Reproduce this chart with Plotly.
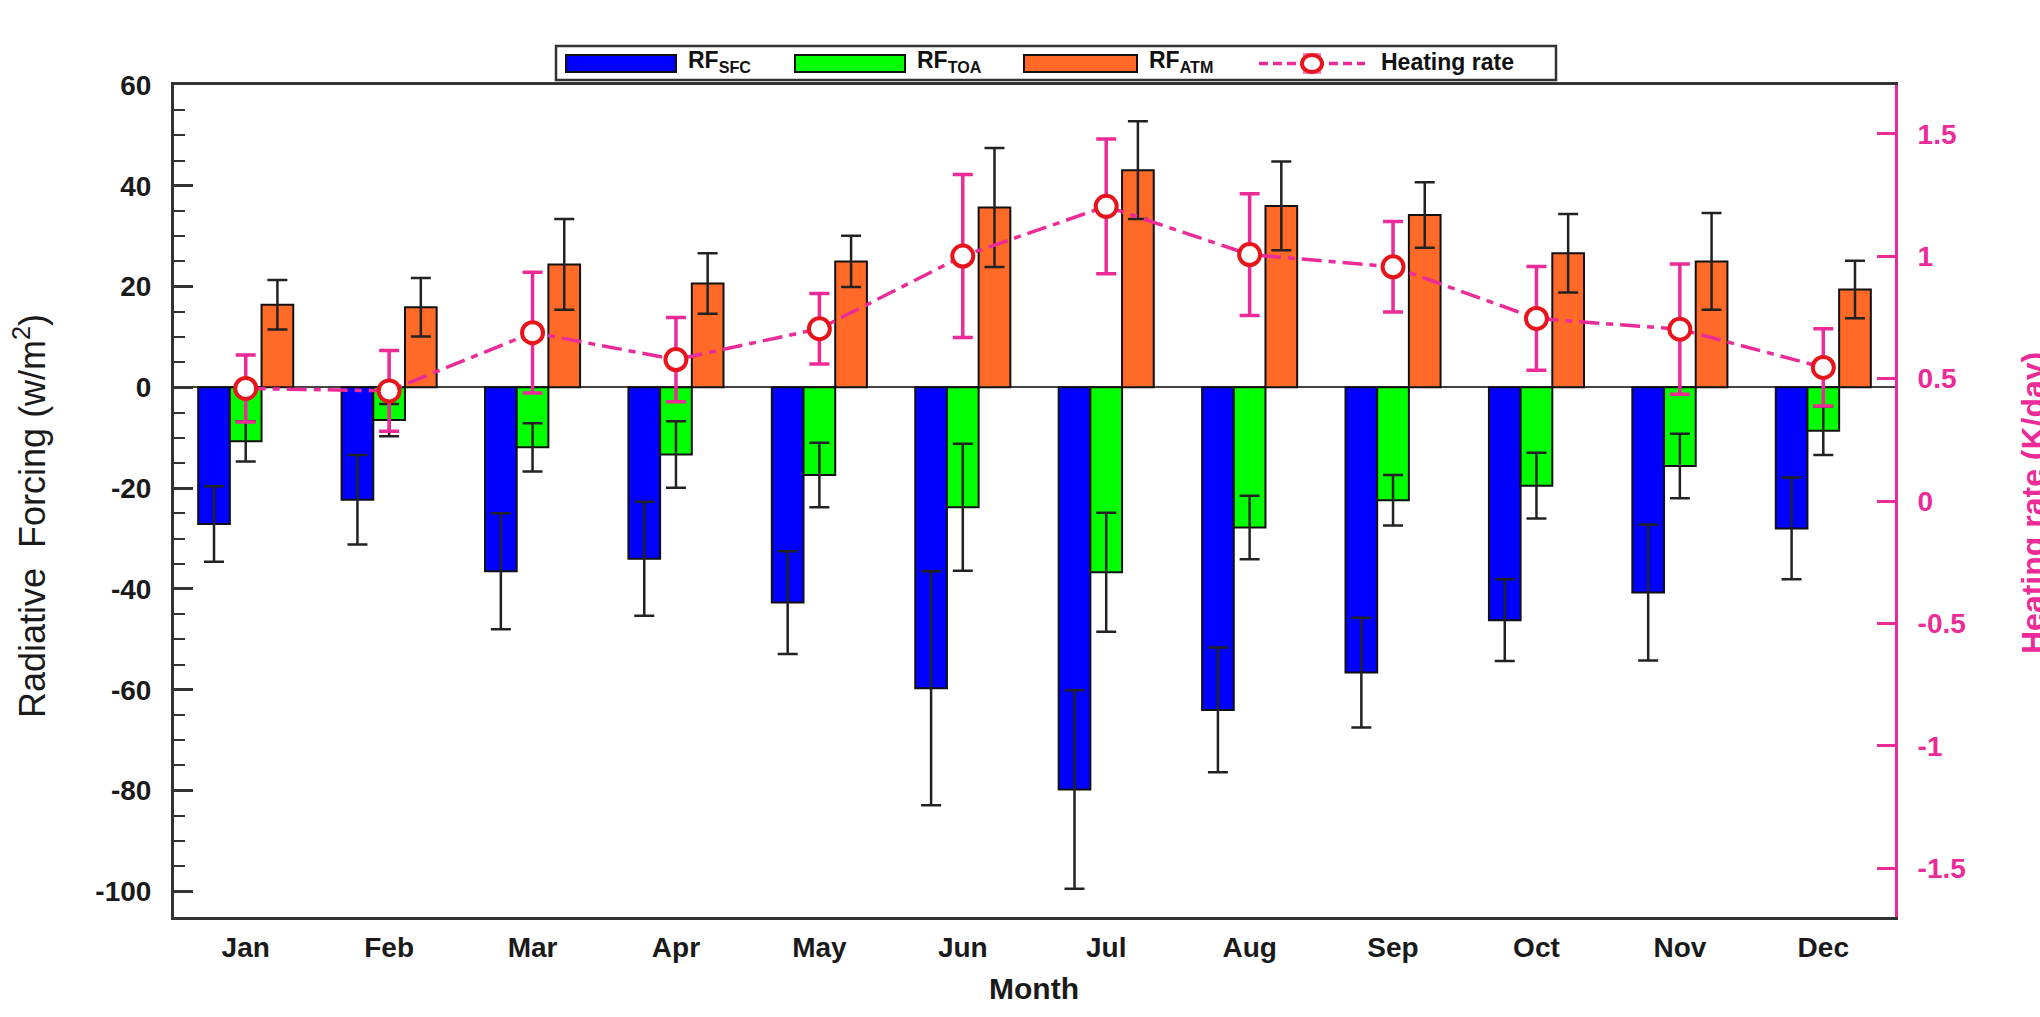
import plotly.graph_objects as go

months = ["Jan", "Feb", "Mar", "Apr", "May", "Jun", "Jul", "Aug", "Sep", "Oct", "Nov", "Dec"]

rf_sfc = [-27.1, -22.3, -36.5, -34.0, -42.7, -59.7, -79.8, -64.0, -56.6, -46.2, -40.7, -28.0]
rf_sfc_err = [7.5, 8.9, 11.5, 11.3, 10.2, 23.2, 19.7, 12.4, 10.9, 8.1, 13.5, 10.1]
rf_toa = [-10.7, -6.5, -11.9, -13.3, -17.4, -23.8, -36.7, -27.8, -22.4, -19.5, -15.6, -8.6]
rf_toa_err = [4.0, 3.2, 4.8, 6.6, 6.4, 12.6, 11.8, 6.3, 5.0, 6.5, 6.4, 4.8]
rf_atm = [16.4, 15.9, 24.4, 20.6, 25.0, 35.7, 43.1, 36.0, 34.2, 26.6, 25.0, 19.4]
rf_atm_err = [4.9, 5.8, 9.0, 6.0, 5.1, 11.8, 9.7, 8.8, 6.5, 7.8, 9.6, 5.7]
heating = [0.46, 0.45, 0.688, 0.578, 0.704, 1.001, 1.204, 1.007, 0.957, 0.746, 0.702, 0.546]
heating_err = [0.137, 0.165, 0.247, 0.172, 0.144, 0.333, 0.275, 0.249, 0.185, 0.212, 0.266, 0.158]

left_ticks = [-100, -80, -60, -40, -20, 0, 20, 40, 60]
left_ticktext = ["-100", "-80", "-60", "-40", "-20", "0", "20", "40", "60"]
right_ticks = [-1.5, -1, -0.5, 0, 0.5, 1, 1.5]
right_ticktext = ["-1.5", "-1", "-0.5", "0", "0.5", "1", "1.5"]

PINK = "#EC2A98"
FONT = "Liberation Sans, Arial, sans-serif"

fig = go.Figure()


def bar(name, y, err, color):
    return go.Bar(
        name=name, x=months, y=y,
        marker=dict(color=color, line=dict(color="#111111", width=2)),
        error_y=dict(type="data", array=err, color="#222222", thickness=2.5, width=10),
    )


fig.add_trace(bar("RF SFC", rf_sfc, rf_sfc_err, "#0000FF"))
fig.add_trace(bar("RF TOA", rf_toa, rf_toa_err, "#00FF00"))
fig.add_trace(bar("RF ATM", rf_atm, rf_atm_err, "#FF6A28"))
fig.add_trace(go.Scatter(
    name="Heating rate", x=months, y=heating, yaxis="y2",
    mode="lines+markers",
    line=dict(color=PINK, width=3.5, dash="20px,7px,7px,7px"),
    marker=dict(symbol="circle", size=21, color="white", line=dict(color="#E8141C", width=4)),
    error_y=dict(type="data", array=heating_err, color=PINK, thickness=3.5, width=10),
))

L, R, T, B = 174, 145, 85, 100
W, H = 2040, 1017
pw, ph = W - L - R, H - T - B


def px(x):
    return (x - L) / pw


def py(y):
    return (H - B - y) / ph


shapes = []
annotations = []

# legend box
shapes.append(dict(type="rect", xref="paper", yref="paper", x0=px(556), x1=px(1556), y0=py(80), y1=py(46),
                   line=dict(color="#333333", width=2.5), fillcolor="white"))
sw = [(566, 676, "#0000FF"), (795, 905, "#00FF00"), (1024, 1137, "#FF6A28")]
for x0, x1, c in sw:
    shapes.append(dict(type="rect", xref="paper", yref="paper", x0=px(x0), x1=px(x1), y0=py(72), y1=py(55),
                       line=dict(color="#111111", width=2), fillcolor=c))
# heating rate legend symbol
shapes.append(dict(type="line", xref="paper", yref="paper", x0=px(1259), x1=px(1365), y0=py(63.5), y1=py(63.5),
                   line=dict(color=PINK, width=3.5, dash="9px,5px")))
shapes.append(dict(type="rect", xref="paper", yref="paper", x0=px(1303), x1=px(1321), y0=py(74), y1=py(53),
                   line=dict(color=PINK, width=0), fillcolor="#F27CC0"))
shapes.append(dict(type="circle", xref="paper", yref="paper", x0=px(1302), x1=px(1322), y0=py(72), y1=py(55),
                   line=dict(color="#E8141C", width=4), fillcolor="white"))

leg_font = dict(family=FONT, size=23, color="#111111", weight="bold")
for x, t in [(686, "RF<sub>SFC</sub>"), (915, "RF<sub>TOA</sub>"), (1147, "RF<sub>ATM</sub>"), (1379, "Heating rate")]:
    annotations.append(dict(xref="paper", yref="paper", x=px(x), y=py(62), xanchor="left", yanchor="middle",
                            text=t, showarrow=False, font=leg_font))

annotations.append(dict(xref="paper", yref="paper", x=px(30), y=py(516), textangle=-90,
                        xanchor="center", yanchor="middle",
                        text="Radiative  Forcing (w/m<sup>2</sup>)", showarrow=False,
                        font=dict(family=FONT, size=36, color="#1a1a1a")))
annotations.append(dict(xref="paper", yref="paper", x=px(2033), y=py(503), textangle=-90,
                        xanchor="center", yanchor="middle",
                        text="Heating rate (K/day)", showarrow=False,
                        font=dict(family=FONT, size=32, color=PINK, weight="bold")))
annotations.append(dict(xref="paper", yref="paper", x=px(1034), y=py(989),
                        xanchor="center", yanchor="middle",
                        text="Month", showarrow=False,
                        font=dict(family=FONT, size=30, color="#1a1a1a", weight="bold")))

tick_font = dict(family=FONT, size=28, color="#1a1a1a", weight="bold")

fig.update_layout(
    width=W, height=H,
    margin=dict(l=L, r=R, t=T, b=B, autoexpand=False),
    paper_bgcolor="white", plot_bgcolor="white",
    barmode="group", bargap=0.337, bargroupgap=0,
    showlegend=False,
    shapes=shapes, annotations=annotations,
    xaxis=dict(
        type="category", range=[-0.5, 11.5],
        showline=True, linecolor="#333333", linewidth=3, mirror=True,
        ticks="", showgrid=False, tickfont=tick_font, ticklabelstandoff=3,
    ),
    yaxis=dict(
        range=[-105.1, 60], tickvals=left_ticks, ticktext=left_ticktext,
        showline=True, linecolor="#333333", linewidth=3,
        ticks="inside", ticklen=19, tickwidth=2.5, tickcolor="#333333",
        minor=dict(dtick=5, tick0=0, ticks="inside", ticklen=11, tickwidth=2, tickcolor="#333333", showgrid=False),
        showgrid=False, zeroline=True, zerolinecolor="#444444", zerolinewidth=2,
        tickfont=tick_font, ticklabelstandoff=14,
    ),
    yaxis2=dict(
        overlaying="y", side="right", range=[-1.70, 1.70],
        tickvals=right_ticks, ticktext=right_ticktext,
        showline=True, linecolor=PINK, linewidth=3,
        ticks="inside", ticklen=18, tickwidth=2.5, tickcolor=PINK,
        showgrid=False, zeroline=False,
        tickfont=dict(family=FONT, size=28, color=PINK, weight="bold"), ticklabelstandoff=14,
    ),
)

fig.write_html("out.html", config={"displayModeBar": False},
               post_script="document.body.style.margin='0';document.body.style.overflow='hidden';")
